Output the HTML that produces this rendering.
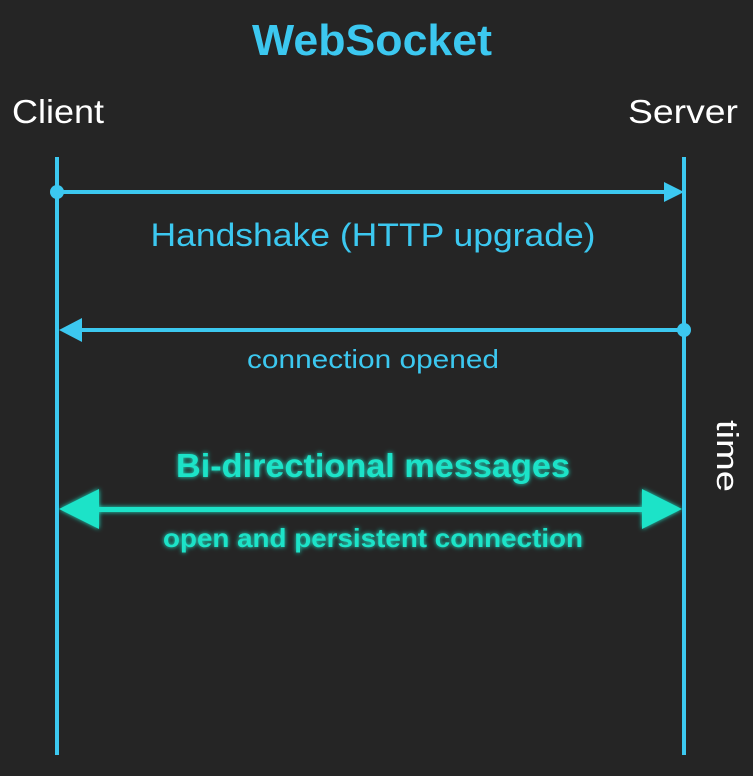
<!DOCTYPE html>
<html><head><style>
body{margin:0;width:753px;height:776px;background:#252525;overflow:hidden;font-family:"Liberation Sans",sans-serif}
</style></head><body>
<svg width="753" height="776" xmlns="http://www.w3.org/2000/svg" style="position:absolute;left:0;top:0">
<defs><filter id="g"><feGaussianBlur stdDeviation="2.5" result="b"/><feMerge><feMergeNode in="b"/><feMergeNode in="SourceGraphic"/></feMerge></filter></defs>
<g font-family="Liberation Sans, sans-serif" text-anchor="middle">
<text x="372" y="55" font-size="44" font-weight="bold" fill="#3cc8f0" textLength="240" lengthAdjust="spacingAndGlyphs">WebSocket</text>
<text x="58" y="123" font-size="33" fill="#fff" textLength="92" lengthAdjust="spacingAndGlyphs">Client</text>
<text x="683" y="123" font-size="33" fill="#fff" textLength="110" lengthAdjust="spacingAndGlyphs">Server</text>
<text x="373" y="246" font-size="32" fill="#3cc8f0" textLength="445" lengthAdjust="spacingAndGlyphs">Handshake (HTTP upgrade)</text>
<text x="373" y="368" font-size="26" fill="#3cc8f0" textLength="252" lengthAdjust="spacingAndGlyphs">connection opened</text>
<g filter="url(#g)" fill="#1de3c8" font-weight="bold">
<text x="373" y="477" font-size="33" textLength="394" lengthAdjust="spacingAndGlyphs">Bi-directional messages</text>
<text x="373" y="547" font-size="26" textLength="420" lengthAdjust="spacingAndGlyphs">open and persistent connection</text>
</g>
<text transform="translate(717,456) rotate(90)" font-size="31" fill="#fff" textLength="72" lengthAdjust="spacingAndGlyphs">time</text>
</g>
<g stroke="#3cc8f0" stroke-width="4" fill="#3cc8f0">
<line x1="57" y1="157" x2="57" y2="755"/>
<line x1="684" y1="157" x2="684" y2="755"/>
<line x1="57" y1="192" x2="670" y2="192"/>
<circle cx="57" cy="192" r="7" stroke="none"/>
<polygon points="684,192 664,182 664,202" stroke="none"/>
<line x1="70" y1="330" x2="684" y2="330"/>
<circle cx="684" cy="330" r="7" stroke="none"/>
<polygon points="59,330 82,318 82,342" stroke="none"/>
</g>
<g filter="url(#g)" fill="#1de3c8">
<rect x="95" y="507" width="550" height="5"/>
<polygon points="59,509 99,489 99,529"/>
<polygon points="682,509 642,489 642,529"/>
</g>
</svg>
</body></html>
